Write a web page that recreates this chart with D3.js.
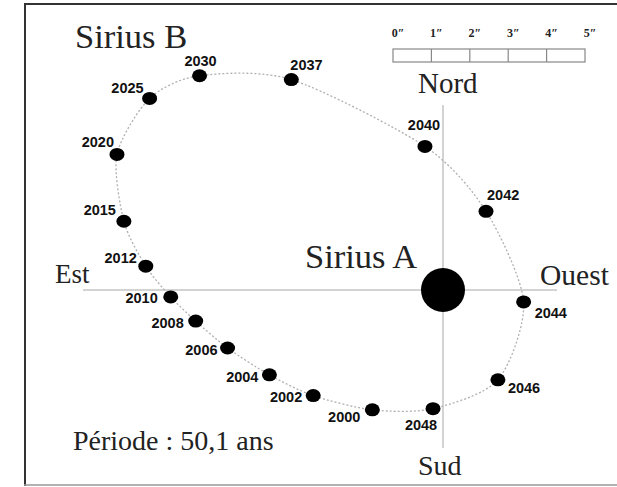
<!DOCTYPE html>
<html>
<head>
<meta charset="utf-8">
<script src="https://cdn.jsdelivr.net/npm/d3@7"></script>
<style>
  body { margin: 0; background: #fff; }
  .serif { font-family: "Liberation Serif", "Times New Roman", serif; fill: #222; }
  .yr { font-family: "Liberation Sans", Arial, sans-serif; font-weight: bold; font-size: 14.5px; fill: #111; }
</style>
</head>
<body>
<svg width="617" height="487"></svg>
<script>
// positions of Sirius B relative to Sirius A, in arcseconds (east +, north +)
const years = [2000, 2002, 2004, 2006, 2008, 2010, 2012, 2015, 2020, 2025, 2030, 2037, 2040, 2042, 2044, 2046, 2048];
const east  = [1.84, 3.38, 4.52, 5.61, 6.44, 7.09, 7.74, 8.31, 8.49, 7.64, 6.34, 3.95, 0.47, -1.12, -2.10, -1.43, 0.26];
const north = [-3.12, -2.75, -2.21, -1.51, -0.81, -0.18, 0.62, 1.79, 3.53, 4.99, 5.58, 5.48, 3.74, 2.05, -0.31, -2.34, -3.09];
const scaleTicks = [0, 1, 2, 3, 4, 5];

// label placement next to each dot: [dx, dy, anchor]
const labelPos = {
  2000: [-12, 12, "end"], 2002: [-11, 6, "end"], 2004: [-11, 7, "end"], 2006: [-10, 7, "end"],
  2008: [-12, 7, "end"], 2010: [-13, 6, "end"], 2012: [-9, -3, "end"], 2015: [-8, -6, "end"],
  2020: [-3, -7, "end"], 2025: [-6, -5, "end"], 2030: [1, -10, "middle"], 2037: [-1, -10, "start"],
  2040: [-1, -16, "middle"], 2042: [1, -11, "start"], 2044: [11, 16, "start"],
  2046: [10, 13, "start"], 2048: [-12, 21, "middle"]
};

const data = years.map((y, i) => ({year: y, e: east[i], n: north[i]}));

const svg = d3.select("svg");
const px = 38.4; // pixels per arcsecond
const x = d3.scaleLinear().domain([10, -4]).range([443 - 10 * px, 443 + 4 * px]);
const y = d3.scaleLinear().domain([-5, 6]).range([290 + 5 * px, 290 - 6 * px]);

// frame
svg.append("line").attr("x1", 25).attr("x2", 25).attr("y1", 3).attr("y2", 486)
  .attr("stroke", "#333").attr("stroke-width", 2);
svg.append("line").attr("x1", 24).attr("x2", 617).attr("y1", 4).attr("y2", 4)
  .attr("stroke", "#333").attr("stroke-width", 2);
svg.append("line").attr("x1", 24).attr("x2", 617).attr("y1", 485).attr("y2", 485)
  .attr("stroke", "#999").attr("stroke-width", 1.5);

// cardinal axes
svg.append("line").attr("x1", 83).attr("x2", 557).attr("y1", y(0)).attr("y2", y(0))
  .attr("stroke", "#c4c4c4").attr("stroke-width", 1.5);
svg.append("line").attr("x1", x(0)).attr("x2", x(0)).attr("y1", 105).attr("y2", 448)
  .attr("stroke", "#c4c4c4").attr("stroke-width", 1.5);

const lab = (tx, ty, size, s) => svg.append("text").attr("class", "serif")
  .attr("x", tx).attr("y", ty).attr("font-size", size).text(s);
lab(55, 283, 27, "Est");
lab(540, 285, 29.5, "Ouest");
lab(418, 93, 29, "Nord");
lab(418, 475, 28, "Sud");

// orbit
const line = d3.line().x(d => x(d.e)).y(d => y(d.n)).curve(d3.curveCardinalClosed.tension(0.2));
svg.append("path").datum(data).attr("d", line)
  .attr("fill", "none").attr("stroke", "#b0b0b0").attr("stroke-width", 1.3)
  .attr("stroke-dasharray", "2,2");

// Sirius A
svg.append("circle").attr("cx", x(0)).attr("cy", y(0)).attr("r", 22).attr("fill", "#000");
lab(305, 268, 34.5, "Sirius A");

// Sirius B points
svg.selectAll(".pt").data(data).enter().append("ellipse")
  .attr("class", "pt")
  .attr("cx", d => x(d.e)).attr("cy", d => y(d.n))
  .attr("rx", 7.5).attr("ry", 6.5).attr("fill", "#000");

svg.selectAll(".yr").data(data).enter().append("text")
  .attr("class", "yr")
  .attr("x", d => x(d.e) + labelPos[d.year][0])
  .attr("y", d => y(d.n) + labelPos[d.year][1])
  .attr("text-anchor", d => labelPos[d.year][2])
  .text(d => d.year);

lab(75, 48, 34.5, "Sirius B");
lab(73, 450, 28, "Période : 50,1 ans");

// scale bar
const sb = d3.scaleLinear().domain([0, 5]).range([393, 393 + 5 * px]);
svg.append("rect").attr("x", sb(0)).attr("y", 49).attr("width", sb(5) - sb(0)).attr("height", 13)
  .attr("fill", "none").attr("stroke", "#888").attr("stroke-width", 1.2);
svg.selectAll(".div").data(scaleTicks.slice(1, -1)).enter().append("line")
  .attr("x1", d => sb(d)).attr("x2", d => sb(d)).attr("y1", 49).attr("y2", 62)
  .attr("stroke", "#888").attr("stroke-width", 1.2);
svg.selectAll(".sbl").data(scaleTicks).enter().append("text")
  .attr("class", "serif")
  .attr("x", d => sb(d) + 5).attr("y", 37).attr("text-anchor", "middle")
  .attr("font-size", 12).attr("font-weight", "bold").text(d => d + "\u2033");
</script>
</body>
</html>
